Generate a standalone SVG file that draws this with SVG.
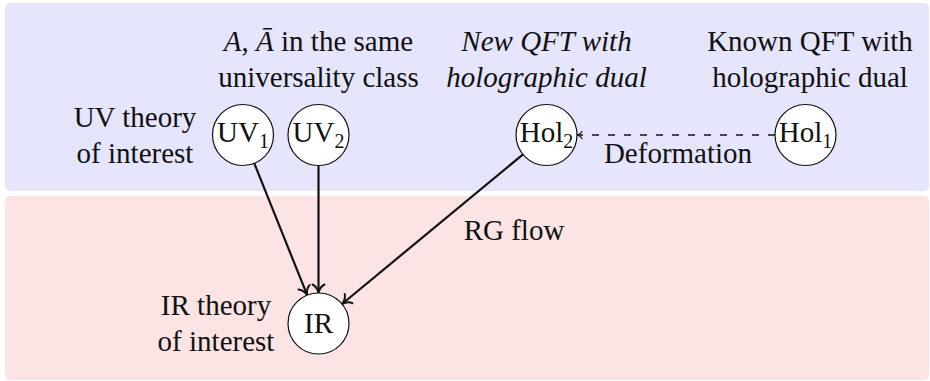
<svg xmlns="http://www.w3.org/2000/svg" width="930" height="381" viewBox="0 0 930 381">
  <style>
    text { font-family: "Liberation Serif", "Times New Roman", serif; font-size: 29px; fill: #111; }
    .c { text-anchor: middle; }
    .it { font-style: italic; }
    .sub { font-size: 20px; }
    .node { fill: #fff; stroke: #111; stroke-width: 1.2; }
    .flow { fill: none; stroke: #111; stroke-width: 2.2; marker-end: url(#tip); }
    .deform { fill: none; stroke: #111; stroke-width: 1.4; stroke-dasharray: 7 9; marker-end: url(#tipSmall); }
  </style>
  <defs>
    <marker id="tip" markerUnits="userSpaceOnUse" orient="auto" refX="0" refY="0" markerWidth="20" markerHeight="20" style="overflow:visible">
      <path d="M -8.5,-6 C -7,-2.7 -2.7,-0.6 0,0 C -2.7,0.6 -7,2.7 -8.5,6" fill="none" stroke="#111" stroke-width="2" stroke-linecap="round"/>
    </marker>
    <marker id="tipSmall" markerUnits="userSpaceOnUse" orient="auto" refX="0" refY="0" markerWidth="12" markerHeight="12" style="overflow:visible">
      <path d="M -5,-3.5 C -4,-1.5 -1.5,-0.4 0,0 C -1.5,0.4 -4,1.5 -5,3.5" fill="none" stroke="#111" stroke-width="1.2" stroke-linecap="round"/>
    </marker>
  </defs>

  <!-- energy-scale bands -->
  <rect id="uv-band" x="5" y="3" width="924" height="188" rx="5" fill="#e5e5fc"/>
  <rect id="ir-band" x="5" y="196" width="924" height="184" rx="5" fill="#fde4e4"/>

  <!-- free-standing captions -->
  <g id="captions">
    <text class="c" x="318.5" y="51"><tspan class="it">A</tspan>, <tspan class="it">Ā</tspan> in the same</text>
    <text class="c" x="318.5" y="87">universality class</text>
    <text class="c it" x="546.5" y="51">New QFT with</text>
    <text class="c it" x="546.5" y="87">holographic dual</text>
    <text class="c" x="810" y="51">Known QFT with</text>
    <text class="c" x="810" y="87">holographic dual</text>
    <text class="c" x="135" y="127">UV theory</text>
    <text class="c" x="135" y="163">of interest</text>
    <text class="c" x="216" y="315">IR theory</text>
    <text class="c" x="216" y="351">of interest</text>
  </g>

  <!-- connectors -->
  <g id="connectors">
    <line class="flow" x1="254.3" y1="163.3" x2="307.2" y2="295.2"/>
    <line class="flow" x1="318.5" y1="165.5" x2="318.5" y2="293"/>
    <line class="flow" x1="523" y1="154.4" x2="342" y2="304"/>
    <text x="514" y="240" class="c">RG flow</text>
    <line class="deform" x1="775" y1="135" x2="577" y2="135"/>
    <text x="678" y="163" class="c">Deformation</text>
  </g>

  <!-- nodes -->
  <g id="uv1">
    <circle class="node" cx="243" cy="135" r="30.5"/>
    <text class="c" x="243" y="142">UV<tspan class="sub" dy="6">1</tspan></text>
  </g>
  <g id="uv2">
    <circle class="node" cx="318.5" cy="135" r="30.5"/>
    <text class="c" x="318.5" y="142">UV<tspan class="sub" dy="6">2</tspan></text>
  </g>
  <g id="hol2">
    <circle class="node" cx="546.5" cy="135" r="30.5"/>
    <text class="c" x="546.5" y="142">Hol<tspan class="sub" dy="6">2</tspan></text>
  </g>
  <g id="hol1">
    <circle class="node" cx="805.5" cy="135" r="30.5"/>
    <text class="c" x="805.5" y="142">Hol<tspan class="sub" dy="6">1</tspan></text>
  </g>
  <g id="ir">
    <circle class="node" cx="318.5" cy="323.5" r="30.5"/>
    <text class="c" x="318.5" y="333">IR</text>
  </g>
</svg>
